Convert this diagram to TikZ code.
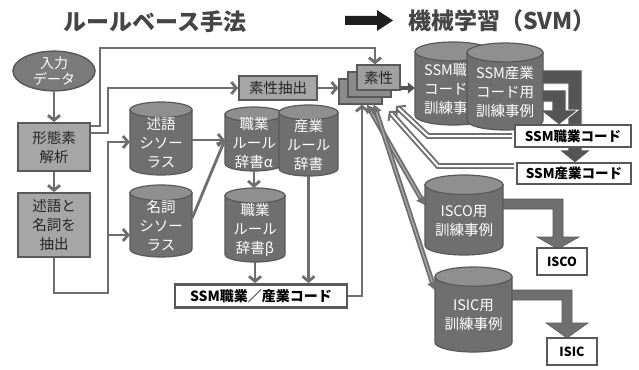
\documentclass[tikz,border=0pt]{standalone}
\usepackage{fontspec}
\setmainfont{Noto Sans CJK JP}
\usetikzlibrary{arrows.meta,shapes.geometric}
\definecolor{linec}{HTML}{6E6E6E}
\definecolor{bordc}{HTML}{595959}
\definecolor{boxf}{HTML}{A6A6A6}
\definecolor{cylb}{HTML}{6F6F6F}
\definecolor{cylt}{HTML}{8F8F8F}
\definecolor{elf}{HTML}{7B7B7B}
\definecolor{darkar}{HTML}{555555}
\definecolor{titc}{HTML}{454545}
\definecolor{stkf}{HTML}{8C8C8C}
\definecolor{stkfront}{HTML}{A0A0A0}
\definecolor{bandf}{HTML}{A8A8A8}
\tikzset{
 base/.style={font=\fontsize{14.5}{19}\selectfont, inner sep=0pt, align=center},
 gbox/.style={base, draw=bordc, line width=1.8pt, fill=boxf, text=black!85},
 elli/.style={base, ellipse, draw=bordc, line width=1.5pt, fill=elf, text=white, font=\fontsize{14}{15.5}\selectfont},
 stk/.style={draw=bordc, line width=1.2pt, fill=stkf, inner sep=0pt},
 codebox/.style={base, draw=bordc, line width=2.8pt, fill=white, text=black, font=\bfseries\fontsize{13.5}{16}\selectfont},
 cylbody/.style={draw=bordc, line width=1.2pt, fill=cylb},
 cyltop/.style={draw=bordc, line width=1.2pt, fill=cylt},
 cylframe/.style={inner sep=0pt, draw=none},
 cyltext/.style={base, text=white},
 conn/.style={draw=linec, line width=2.8pt, -{Straight Barb[length=5pt,width=12pt]}},
 bigarr/.style={draw=darkar, line width=4pt, -{Triangle[length=7pt,width=11pt]}},
 hollow/.style={draw=linec, line width=1.9pt, double=white, double distance=2pt, shorten <=1.5pt, -{Straight Barb[length=6pt,width=14pt]}},
 band/.style={draw=linec, line width=1.8pt, double=bandf, double distance=1.4pt, {Triangle[length=8pt,width=10pt]}-{Triangle[length=8pt,width=10pt]}},
 bent/.style={fill=darkar, draw=white, line width=0.8pt},
 bent2/.style={fill=cylb, draw=bordc, line width=0.6pt},
 title/.style={font=\bfseries\fontsize{23}{23}\selectfont, text=titc, inner sep=0pt},
}
\newcommand\dbcyl[6]{%
  \pgfmathsetmacro\cyX{(#2+#3)/2}%
  \pgfmathsetmacro\cyR{(#3-#2)/2}%
  \pgfmathsetmacro\cyE{0.125*(#3-#2)}%
  \pgfmathsetmacro\cyY{(#4+#5)/2}%
  \pgfmathsetmacro\cyT{(#4+#5)/2+0.6*\cyE}%
  \pgfmathsetmacro\cyW{#3-#2}%
  \pgfmathsetmacro\cyH{#5-#4}%
  \filldraw[cylbody] (#2,#4+\cyE) -- (#2,#5-\cyE) arc[start angle=180,end angle=360,x radius=\cyR pt,y radius=\cyE pt] -- (#3,#4+\cyE) -- cycle;
  \filldraw[cyltop] (\cyX,#4+\cyE) ellipse[x radius=\cyR pt,y radius=\cyE pt];
  \node[cylframe,minimum width=\cyW pt,minimum height=\cyH pt] (#1) at (\cyX,\cyY) {};
  \node[cyltext] (#1-t) at (\cyX,\cyT) {#6};
}
\begin{document}
\begin{tikzpicture}[x=1pt,y=-1pt]
\useasboundingbox[fill=white] (0,0) rectangle (639,369);
% titles
\node[title] (t1) at (155,22) {ルールベース手法};
\node[title] (t2) at (502,21) {機械学習（SVM）};
\fill[black!88] (345,16) -- (377,16) -- (377,10) -- (393,20.5) -- (377,31) -- (377,25) -- (345,25) -- cycle;
% left side
\node[elli, minimum width=82pt, minimum height=38pt] (input) at (54,71) {入力\\データ};
\node[gbox, minimum width=72pt, minimum height=48pt] (keitai) at (54,147) {形態素\\解析};
\node[gbox, minimum width=72pt, minimum height=64pt] (chushutsu) at (54,225) {述語と\\名詞を\\抽出};
\node[gbox, minimum width=78pt, minimum height=24pt] (soseichu) at (278,88) {素性抽出};
% feature stack
\node[stk, minimum width=43pt, minimum height=25pt] (stackB) at (360.5,91.5) {};
\node[stk, minimum width=43pt, minimum height=25pt] (stackM) at (369.5,84.5) {};
\node[stk, fill=stkfront, minimum width=43pt, minimum height=25pt, base, text=black!85] (stackF) at (378.5,77.5) {素性};
% cylinders
\dbcyl{jutsu}{130}{192}{102}{175}{述語\\シソー\\ラス}
\dbcyl{meishi}{130}{192}{185}{257}{名詞\\シソー\\ラス}
\dbcyl{shokuA}{225}{283}{107}{171}{職業\\ルール\\辞書α}
\dbcyl{sangyo}{279}{338}{105}{176}{産業\\ルール\\辞書}
\dbcyl{shokuB}{225}{285}{188}{262}{職業\\ルール\\辞書β}
\dbcyl{ssmS}{415}{491}{42}{125}{SSM職業\\コード用\\訓練事例}
% bent arrows to SSM code boxes
\filldraw[bent] (530,70) -- (582,70) -- (582,150) -- (591,150) -- (575,163) -- (559,150) -- (568,150) -- (568,84) -- (530,84) -- cycle;
\filldraw[bent] (530,90) -- (566,90) -- (566,110) -- (578,110) -- (559,125) -- (540,110) -- (552,110) -- (552,102) -- (530,102) -- cycle;
\dbcyl{ssmI}{467}{543}{43}{130}{SSM産業\\コード用\\訓練事例}
% ISCO / ISIC bent arrows
\filldraw[bent2] (500,199) -- (563,199) -- (563,237) -- (579,237) -- (558,249) -- (537,237) -- (553,237) -- (553,209) -- (500,209) -- cycle;
\filldraw[bent2] (508,290) -- (572,290) -- (572,323) -- (588,323) -- (567,338) -- (546,323) -- (562,323) -- (562,300) -- (508,300) -- cycle;
\dbcyl{isco}{425}{503}{175}{255}{ISCO用\\訓練事例}
\dbcyl{isic}{435}{512}{267}{352}{ISIC用\\訓練事例}
% code boxes
\node[codebox, minimum width=116pt, minimum height=22pt] (code1) at (573,136) {SSM職業コード};
\node[codebox, minimum width=114pt, minimum height=21pt] (code2) at (574,173.5) {SSM産業コード};
\node[codebox, minimum width=172pt, minimum height=23pt, font=\bfseries\fontsize{14}{16}\selectfont] (ssmcode) at (261,296) {SSM職業／産業コード};
\node[codebox, minimum width=50pt, minimum height=27pt, font=\bfseries\fontsize{12.5}{14}\selectfont] (iscobox) at (562,261.5) {ISCO};
\node[codebox, minimum width=50pt, minimum height=27pt, font=\bfseries\fontsize{12.5}{14}\selectfont] (isicbox) at (572,351.5) {ISIC};
% connectors
\draw[conn] (input.south) -- (keitai.north);
\draw[conn] (keitai.south) -- (chushutsu.north);
\draw[conn] (keitai.east |- 0,126) -| (100,48) -| (stackF.north -| 375,0);
\draw[conn] (keitai.east |- 0,133) -| (108,88) -- (soseichu.west);
\draw[conn] (chushutsu.south) |- (108,293) |- (jutsu.west |- 0,142);
\draw[conn] (108,235) -- (meishi.west |- 0,235);
\draw[conn] (jutsu.east |- 0,140) -- (shokuA.west |- 0,140);
\draw[conn] (meishi.east |- 0,218) -- (shokuA.west |- 0,140);
\draw[conn] (shokuA.south) -- (shokuA.south |- shokuB.north);
\draw[conn] (shokuB.south) -- (shokuB.south |- ssmcode.north);
\draw[conn] (sangyo.south) -- (sangyo.south |- ssmcode.north);
\draw[conn] (ssmcode.east) -| (stackB.south -| 362,0);
\draw[conn] (soseichu.east) -- (soseichu.east -| stackB.west);
\draw[bigarr] (stackF.east |- 0,88) -- (ssmS.west |- 0,88);
\coordinate (r1) at (396,106);
\coordinate (r2) at (389,111);
\draw[hollow] (code1.west) -- (428,136) -- (r1);
\draw[hollow] (code2.west |- 0,166) -- (438,166) -- (r2);
\draw[band] (stackB.south -| 367,0) -- (isco.west |- 0,205);
\draw[band] (stackB.south -| 374,0) -- (isic.west |- 0,290);
\end{tikzpicture}
\end{document}
